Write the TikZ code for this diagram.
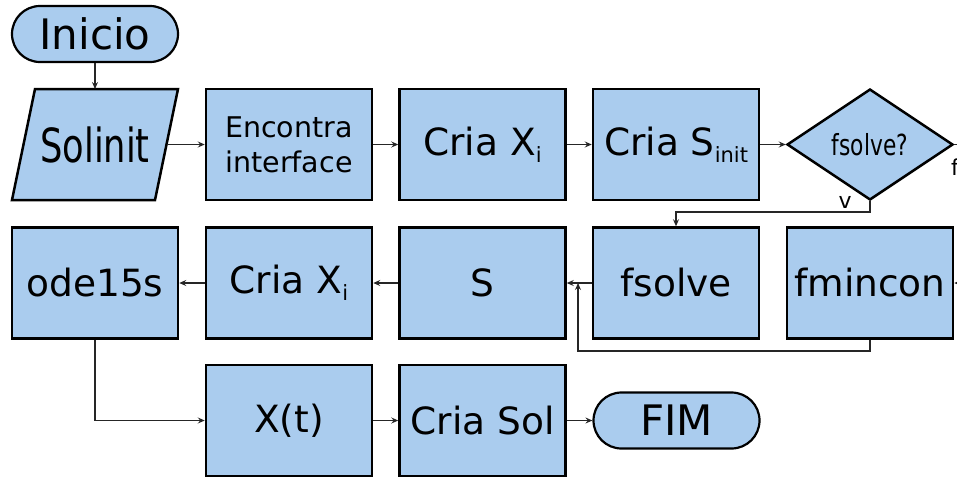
\documentclass[tikz,border=0pt]{standalone}
\usepackage{fontspec}
\setmainfont{DejaVu Sans}
\newfontfamily\condfont[FakeStretch=0.75]{DejaVu Sans}
\usetikzlibrary{shapes.geometric,arrows.meta}
\definecolor{boxfill}{RGB}{170,204,238}
\newcommand{\bigtxt}{\fontsize{37.5}{40}\selectfont}
\newcommand{\subtxt}[1]{\raisebox{-7pt}{\fontsize{21}{21}\selectfont #1}}
\tikzset{
  procbox/.style={draw=black, fill=boxfill, line width=2.5pt, minimum width=166pt, minimum height=111pt, inner sep=0pt, font=\bigtxt},
  termbox/.style={draw=black, fill=boxfill, line width=2.2pt, rounded corners=28pt, minimum width=166pt, minimum height=56pt, inner sep=0pt, font=\fontsize{42}{44}\selectfont},
  decbox/.style={draw=black, fill=boxfill, line width=2.5pt, diamond, minimum width=166pt, minimum height=111pt, inner sep=0pt, font=\condfont\fontsize{29}{30}\selectfont},
  conn/.style={line width=1.2pt, draw=black!85},
  arr/.style={conn, -{Stealth[length=7pt,width=6pt,inset=2.5pt]}},
  lbl/.style={font=\fontsize{22}{22}\selectfont, inner sep=0pt}
}
\begin{document}
\begin{tikzpicture}[x=1pt,y=-1pt]
\useasboundingbox (0,0) rectangle (957,477);
\clip (0,0) rectangle (957,477);
% start
\node[termbox] (inicio) at (95,34) {Inicio};
% parallelogram Solinit
\path[draw=black, fill=boxfill, line width=2.5pt, line join=miter] (35,89) -- (178,89) -- (155,200) -- (12,200) -- cycle;
\node[inner sep=0pt, font=\condfont\fontsize{47}{48}\selectfont] (solinit) at (95,144.5) {Solinit};
\coordinate (solinitT) at (95,89);
\coordinate (solinitR) at (166.5,144.5);
% row 1
\node[procbox] (encontra) at (289,144.5) {\parbox{166pt}{\centering\fontsize{28.5}{35}\selectfont Encontra\\interface}};
\node[procbox] (criax1) at (482.5,144.5) {Cria X\subtxt{i}};
\node[procbox] (crias) at (676,144.5) {Cria S\subtxt{init}};
\node[decbox] (dec) at (870,144.5) {fsolve?};
% row 2
\node[procbox] (ode) at (95,283) {ode15s};
\node[procbox] (criax2) at (289,283) {Cria X\subtxt{i}};
\node[procbox] (s) at (482.5,283) {S};
\node[procbox] (fsolve) at (676,283) {fsolve};
\node[procbox] (fmincon) at (870,283) {fmincon};
% row 3
\node[procbox] (xt) at (289,420.5) {X(t)};
\node[procbox] (criasol) at (482.5,420.5) {Cria Sol};
\node[termbox] (fim) at (676.5,420.5) {FIM};
% labels
\node[lbl] (lv) at (845,202) {v};
\node[lbl] (lf) at (955,167) {f};
% coordinates for bends
\coordinate (b1) at (870,212);
\coordinate (b2) at (676,212);
\coordinate (c1) at (870,351);
\coordinate (c2) at (578,351);
\coordinate (c3) at (578,283);
\coordinate (d1) at (975,144.5);
\coordinate (d2) at (975,283);
\coordinate (e1) at (95,420.5);
% connectors
\draw[arr] (inicio.south) -- (solinitT);
\draw[arr] (solinitR) -- (encontra.west);
\draw[arr] (encontra.east) -- (criax1.west);
\draw[arr] (criax1.east) -- (crias.west);
\draw[arr] (crias.east) -- (dec.west);
\draw[arr] (dec.south) -- (b1) -- (b2) -- (fsolve.north);
\draw[arr] (dec.east) -- (d1) -- (d2) -- (fmincon.east);
\draw[arr] (fsolve.west) -- (s.east);
\draw[arr] (fmincon.south) -- (c1) -- (c2) -- (c3);
\draw[arr] (s.west) -- (criax2.east);
\draw[arr] (criax2.west) -- (ode.east);
\draw[arr] (ode.south) -- (e1) -- (xt.west);
\draw[arr] (xt.east) -- (criasol.west);
\draw[arr] (criasol.east) -- (fim.west);
\end{tikzpicture}
\end{document}
